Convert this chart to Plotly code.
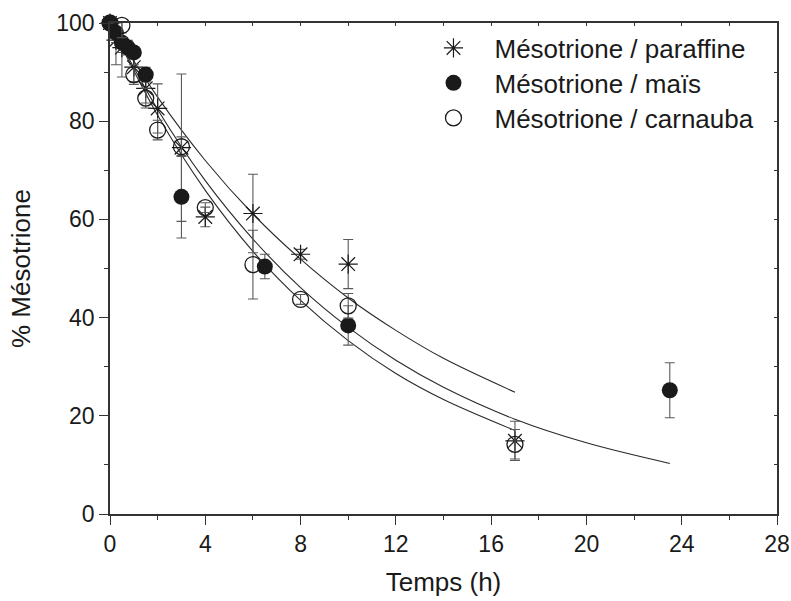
import plotly.graph_objects as go

# ---- data ----
t_paraffine = [0, 0.25, 0.5, 1, 1.5, 2, 3, 4, 6, 8, 10, 17]
y_paraffine = [100, 96.5, 95, 91, 86.7, 82.6, 74.6, 60.5, 61.2, 52.9, 50.9, 14.9]
e_paraffine = [0, 5, 6, 3, 3, 5, 15, 2, 8, 1, 5, 4]

t_mais = [0, 0.25, 0.5, 0.75, 1, 1.5, 3, 6.5, 10, 23.5]
y_mais = [100, 98, 96, 95, 94, 89.5, 64.6, 50.4, 38.4, 25.2]
e_mais = [0, 2, 2, 1.5, 1, 1.5, 8.4, 2.5, 4, 5.6]

t_carnauba = [0, 0.5, 1, 1.5, 2, 3, 4, 6, 8, 10, 17]
y_carnauba = [100, 99.5, 89.5, 84.7, 78.2, 74.8, 62.4, 50.8, 43.7, 42.4, 14.2]
e_carnauba = [0, 2.5, 2, 2, 2, 2, 1, 7, 1, 2.5, 3]

# fitted curves
fit_t_paraffine = [0, 2, 4, 6, 8, 10, 12, 14, 17]
fit_y_paraffine = [100, 84.9, 72.0, 61.1, 51.9, 44.0, 37.4, 31.7, 24.8]
fit_t_carnauba = [0, 2, 4, 6, 8, 10, 12, 14, 17]
fit_y_carnauba = [100, 81.2, 65.9, 53.5, 43.5, 35.3, 28.6, 23.3, 17.0]
fit_t_mais = [0, 2, 4, 6, 8, 10, 12, 14, 17, 20, 23.5]
fit_y_mais = [100, 82.4, 67.9, 56.0, 46.1, 38.0, 31.3, 25.8, 19.3, 14.5, 10.3]

x_ticks = [0, 4, 8, 12, 16, 20, 24, 28]
y_ticks = [0, 20, 40, 60, 80, 100]

names = ["Mésotrione / paraffine", "Mésotrione / maïs", "Mésotrione / carnauba"]

INK = "#1a1a1a"
ERR = "#5a5a5a"
FONT = "Liberation Sans, Arial, sans-serif"

fig = go.Figure()

for tt, yy in [(fit_t_paraffine, fit_y_paraffine), (fit_t_carnauba, fit_y_carnauba), (fit_t_mais, fit_y_mais)]:
    fig.add_trace(go.Scatter(x=tt, y=yy, mode="lines", line=dict(color="#2a2a2a", width=1.1, shape="spline"),
                             showlegend=False, hoverinfo="skip"))

def err(e):
    return dict(type="data", array=e, visible=True, color=ERR, thickness=1.1, width=5)

fig.add_trace(go.Scatter(x=t_paraffine, y=y_paraffine, mode="markers", name=names[0], legend="legend",
                         error_y=err(e_paraffine), cliponaxis=False,
                         marker=dict(symbol="asterisk-open", size=16, color=INK, line=dict(color=INK, width=1.2))))
fig.add_trace(go.Scatter(x=t_mais, y=y_mais, mode="markers", name=names[1], legend="legend2",
                         error_y=err(e_mais), cliponaxis=False,
                         marker=dict(symbol="circle", size=16, color=INK, line=dict(color=INK, width=0))))
fig.add_trace(go.Scatter(x=t_carnauba, y=y_carnauba, mode="markers", name=names[2], legend="legend3",
                         error_y=err(e_carnauba), cliponaxis=False,
                         marker=dict(symbol="circle-open", size=16, color=INK, line=dict(color=INK, width=1.3))))

axis_common = dict(showgrid=False, zeroline=False, showline=True, linecolor="#333", linewidth=1.5,
                   ticks="outside", ticklen=9, tickwidth=1.2, tickcolor="#333", automargin=False,
                   tickfont=dict(family=FONT, size=23, color=INK))

def leg(yc):
    return dict(x=0.4535, y=yc, xanchor="left", yanchor="middle", bgcolor="rgba(0,0,0,0)",
                font=dict(family=FONT, size=26, color=INK), itemwidth=72)

fig.update_layout(
    template="none",
    width=791, height=601,
    margin=dict(l=110, r=14, t=23, b=87, autoexpand=False),
    paper_bgcolor="white", plot_bgcolor="white",
    font=dict(family=FONT, color=INK),
    xaxis=dict(range=[0, 28], tickvals=x_ticks, **axis_common,
               minor=dict(dtick=2, tick0=0, ticks="outside", ticklen=4, tickcolor="#333"),
               title=dict(text="Temps (h)", font=dict(family=FONT, size=26, color=INK), standoff=16)),
    yaxis=dict(range=[0, 100], tickvals=y_ticks, **axis_common,
               minor=dict(dtick=10, tick0=0, ticks="outside", ticklen=4, tickcolor="#333"),
               title=dict(text="% Mésotrione", font=dict(family=FONT, size=26, color=INK), standoff=18)),
    xaxis2=dict(range=[0, 28], overlaying="x", side="top", showgrid=False, zeroline=False,
                showline=True, linecolor="#333", linewidth=1.5, ticks="inside", ticklen=3,
                tickcolor="#333", dtick=2, tick0=0, showticklabels=False, automargin=False),
    yaxis2=dict(range=[0, 100], overlaying="y", side="right", showgrid=False, zeroline=False,
                showline=True, linecolor="#333", linewidth=1.5, ticks="inside", ticklen=3,
                tickcolor="#333", dtick=10, tick0=0, showticklabels=False, automargin=False),
    legend=leg(0.949),
    legend2=leg(0.878),
    legend3=leg(0.8065),
    showlegend=True,
)

# invisible trace to activate the mirror axes
fig.add_trace(go.Scatter(x=[0], y=[0], xaxis="x2", yaxis="y2", mode="markers",
                         marker=dict(opacity=0), showlegend=False, hoverinfo="skip"))

fig.write_html("out.html", config={"displayModeBar": False},
               post_script="document.body.style.margin='0px';")
